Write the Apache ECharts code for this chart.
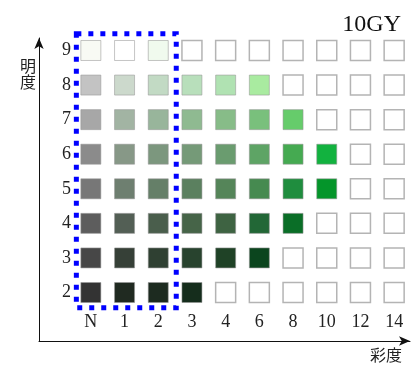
<!DOCTYPE html>
<html><head><meta charset="utf-8">
<script src="https://cdn.jsdelivr.net/npm/echarts@6/dist/echarts.min.js"></script>
<style>html,body{margin:0;padding:0;background:#fff}#c{width:411px;height:365px}</style>
</head><body><div id="c"></div>
<script>
const chromaLabels = ['N','1','2','3','4','6','8','10','12','14'];
const valueLabels = ['2','3','4','5','6','7','8','9'];
// colours per value row, by chroma column (null = empty sample)
const row9 = ['#f8faf4','#ffffff','#f0faee',null,null,null,null,null,null,null];
const row8 = ['#c3c3c3','#ccd9cc','#c2dac4','#b8dfbb','#b0e2b2','#a9eba0',null,null,null,null];
const row7 = ['#a7a7a7','#a2b4a3','#98b59b','#8fba91','#87bc88','#79c07c','#66cc6b',null,null,null];
const row6 = ['#8b8b8b','#879887','#7c977e','#759a78','#6a9c6f','#5ea465','#45aa51','#12b23f',null,null];
const row5 = ['#777777','#6e7f70','#657f68','#5b805f','#558559','#468a50','#1f8d3e','#04952a',null,null];
const row4 = ['#5d5d5d','#535f55','#4a5e4c','#466448','#3e6342','#226736','#0a6e27',null,null,null];
const row3 = ['#474747','#364037','#2f4032','#28432e','#1f4226','#0b451e',null,null,null,null];
const row2 = ['#333333','#202a21','#1d2b20','#152d1c',null,null,null,null,null,null];
const rows = {'2':row2,'3':row3,'4':row4,'5':row5,'6':row6,'7':row7,'8':row8,'9':row9};
const highlightCols = ['N','2']; // neutral..2 box
const title = '10GY';

const data = [];
valueLabels.forEach(v => {
  rows[v].forEach((col, i) => {
    data.push({
      value: [chromaLabels[i], v],
      itemStyle: col ? {color: col, borderColor: 'rgba(150,150,150,0.55)', borderWidth: 1, opacity: 1}
                     : {color: '#ffffff', borderColor: '#b4b4b4', borderWidth: 1.5, opacity: 1}
    });
  });
});

const serif = 'Liberation Serif';
const chart = echarts.init(document.getElementById('c'));
chart.setOption({
  animation: false,
  backgroundColor: '#fff',
  title: {text: title, right: 5, top: 8, textStyle: {fontFamily: serif, fontSize: 24, fontWeight: 'normal', color: '#111'}},
  grid: [
    {left: 74, width: 340, top: 33.2, height: 276.6},
    {left: 39, right: 1, top: 38, bottom: 24}
  ],
  xAxis: [
    {type: 'category', gridIndex: 0, data: chromaLabels, boundaryGap: true,
     axisLine: {show: false}, axisTick: {show: false}, splitLine: {show: false},
     axisLabel: {margin: 3, fontFamily: serif, fontSize: 18, color: '#222'}},
    {type: 'value', gridIndex: 1, min: 0, max: 1, axisLabel: {show: false}, axisTick: {show: false}, splitLine: {show: false},
     axisLine: {show: true, lineStyle: {color: '#111', width: 1}, symbol: ['none', 'arrow'], symbolSize: [7, 11]},
     name: '彩度', nameLocation: 'end', nameGap: -8,
     nameTextStyle: {fontFamily: 'Noto Sans CJK JP', fontSize: 16, color: '#222', align: 'right', verticalAlign: 'top', padding: [6, 0, 0, 0]}}
  ],
  yAxis: [
    {type: 'category', gridIndex: 0, data: valueLabels, boundaryGap: true,
     axisLine: {show: false}, axisTick: {show: false}, splitLine: {show: false},
     axisLabel: {margin: 3, fontFamily: serif, fontSize: 18, color: '#222'}},
    {type: 'value', gridIndex: 1, min: 0, max: 1, axisLabel: {show: false}, axisTick: {show: false}, splitLine: {show: false},
     axisLine: {show: true, lineStyle: {color: '#111', width: 1}, symbol: ['none', 'arrow'], symbolSize: [7, 11]},
     name: '明\n度', nameLocation: 'end', nameGap: -20,
     nameTextStyle: {fontFamily: 'Noto Sans CJK JP', fontSize: 16, lineHeight: 16, color: '#222', align: 'right', verticalAlign: 'top', padding: [0, 3, 0, 0]}}
  ],
  series: [{
    type: 'scatter', xAxisIndex: 0, yAxisIndex: 0, symbol: 'rect', symbolSize: 20,
    itemStyle: {opacity: 1},
    data: data, emphasis: {disabled: true}
  }]
});

// dotted box around the N..2 columns, from axis positions
const p1 = chart.convertToPixel({gridIndex: 0}, [highlightCols[0], valueLabels[valueLabels.length - 1]]);
const p2 = chart.convertToPixel({gridIndex: 0}, [highlightCols[1], valueLabels[0]]);
const band = 340 / chromaLabels.length, vband = 276.6 / valueLabels.length;
const x0 = p1[0] - band / 2 + 2.5, x1 = p2[0] + band / 2 + 1;
const y0 = p1[1] - vband / 2 + 0.5, y1 = p2[1] + vband / 2 - 2;
chart.setOption({graphic: [{
  type: 'rect', shape: {x: x0, y: y0, width: x1 - x0, height: y1 - y0},
  style: {fill: 'none', stroke: '#0000ff', lineWidth: 5, lineDash: [5, 7]}, z: 10
}]});
</script></body></html>
